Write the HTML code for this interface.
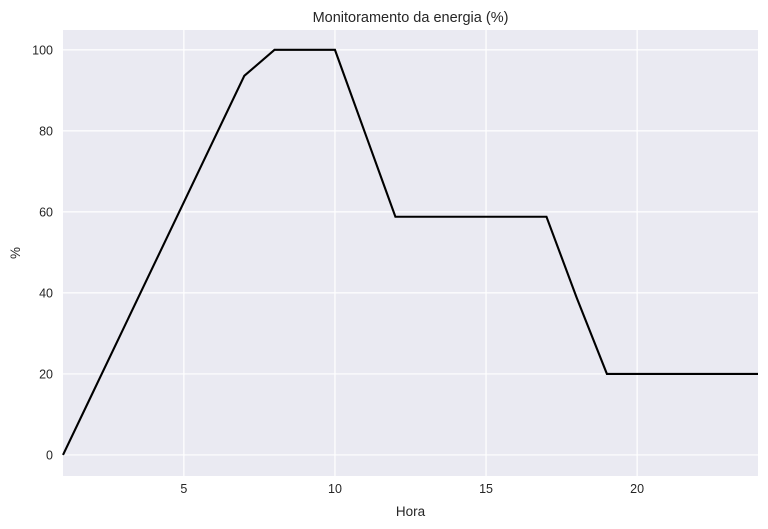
<!DOCTYPE html>
<html><head><meta charset="utf-8"><style>
body{margin:0;background:#fff;}
svg{display:block;font-family:"Liberation Sans",sans-serif;}
</style></head><body>
<svg id="chart" width="768" height="529"></svg>
<script>
const hours=[1,2,3,4,5,6,7,8,9,10,11,12,13,14,15,16,17,18,19,20,21,22,23,24];
const energy=[0,15.6,31.2,46.8,62.4,78,93.6,100,100,100,79.4,58.8,58.8,58.8,58.8,58.8,58.8,38.8,20,20,20,20,20,20];
const xTicks=[5,10,15,20];
const yTicks=[0,20,40,60,80,100];
const L=63,R=758,T=30,B=476,xMin=1,xMax=24,yMin=-5.2,yMax=104.9;
const sx=v=>L+(v-xMin)/(xMax-xMin)*(R-L);
const sy=v=>B-(v-yMin)/(yMax-yMin)*(B-T);
const svg=document.getElementById('chart');
const NS='http://www.w3.org/2000/svg';
function mk(t,a,p){const e=document.createElementNS(NS,t);for(const k in a)e.setAttribute(k,a[k]);(p||svg).appendChild(e);return e;}
const bg=mk('rect',{x:L,y:T,width:R-L,height:B-T,fill:'#EAEAF2'});


xTicks.forEach(v=>{
 const g=mk('line',{x1:sx(v),x2:sx(v),y1:T,y2:B,stroke:'#fff','stroke-width':1.2});
 
 
 const t=mk('text',{x:sx(v),y:B+17,'text-anchor':'middle','font-size':12.5,fill:'#262626'});
 t.textContent=v;
 
 
});
yTicks.forEach(v=>{
 const g=mk('line',{x1:L,x2:R,y1:sy(v),y2:sy(v),stroke:'#fff','stroke-width':1.2});
 
 
 const t=mk('text',{x:L-10,y:sy(v)+4.5,'text-anchor':'end','font-size':12.5,fill:'#262626'});
 t.textContent=v;
 
 
});
const line=mk('polyline',{points:hours.map((h,i)=>sx(h)+','+sy(energy[i])).join(' '),fill:'none',stroke:'#000','stroke-width':2.1});


const title=mk('text',{x:(L+R)/2,y:22,'text-anchor':'middle','font-size':14.5,fill:'#262626'});
title.textContent='Monitoramento da energia (%)';


const xl=mk('text',{x:(L+R)/2,y:516,'text-anchor':'middle','font-size':13.5,fill:'#262626'});
xl.textContent='Hora';


const yl=mk('text',{x:20,y:(T+B)/2,'text-anchor':'middle','font-size':13.5,fill:'#262626',transform:'rotate(-90 20 '+(T+B)/2+')'});
yl.textContent='%';


</script>
</body></html>
